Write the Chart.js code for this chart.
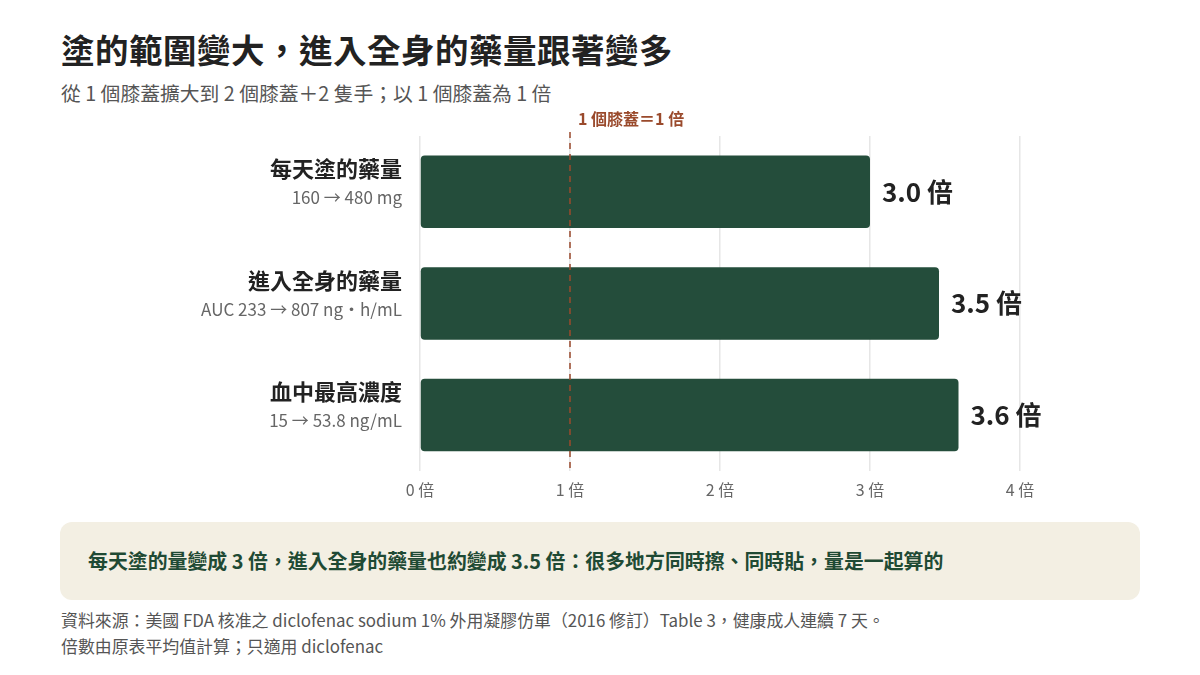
<!DOCTYPE html>
<html lang="zh-Hant">
<head>
<meta charset="utf-8">
<script src="https://cdn.jsdelivr.net/npm/chart.js@4"></script>
<style>
  html, body { margin: 0; padding: 0; background: #fff; }
  body { width: 1200px; height: 675px; position: relative; overflow: hidden;
         font-family: "Noto Sans CJK TC", "Noto Sans", sans-serif; color: #222; }
  .title { position: absolute; left: 61px; top: 24px; font-size: 33.5px; font-weight: 700; color: #222; letter-spacing: 0.5px; }
  .sub { position: absolute; left: 61px; top: 78px; font-size: 19.8px; color: #555; }
  .chartbox { position: absolute; left: 0; top: 110px; width: 1200px; height: 400px; }
  .note { position: absolute; left: 60px; top: 522px; width: 1080px; height: 78px; background: #f3efe3;
          border-radius: 12px; box-sizing: border-box; padding-left: 28px; line-height: 78px;
          font-size: 19.9px; font-weight: 700; color: #1f4a34; }
  .foot { position: absolute; left: 61px; top: 607px; font-size: 16.9px; color: #555; line-height: 26px; }
</style>
</head>
<body>
<div class="title">塗的範圍變大，進入全身的藥量跟著變多</div>
<div class="sub">從 1 個膝蓋擴大到 2 個膝蓋＋2 隻手；以 1 個膝蓋為 1 倍</div>
<div class="chartbox"><canvas id="ratioChart"></canvas></div>
<div class="note">每天塗的量變成 3 倍，進入全身的藥量也約變成 3.5 倍：很多地方同時擦、同時貼，量是一起算的</div>
<div class="foot">資料來源：美國 FDA 核准之 diclofenac sodium 1% 外用凝膠仿單（2016 修訂）Table 3，健康成人連續 7 天。<br>倍數由原表平均值計算；只適用 diclofenac</div>

<script>
// categories, sub labels and ratios (from FDA label means)
const categories = ["每天塗的藥量", "進入全身的藥量", "血中最高濃度"];
const subLabels = ["160 → 480 mg", "AUC 233 → 807 ng・h/mL", "15 → 53.8 ng/mL"];
const ratios = [3.0, 3.46, 3.59];
const ratioLabels = ["3.0 倍", "3.5 倍", "3.6 倍"];
const xTicks = [0, 1, 2, 3, 4];
const refValue = 1;
const refLabel = "1 個膝蓋＝1 倍";

const FONT = '"Noto Sans CJK TC", "Noto Sans", sans-serif';

const labelPlugin = {
  id: "labelPlugin",
  afterDatasetsDraw(chart) {
    const { ctx, chartArea, scales } = chart;
    const x = scales.x, y = scales.y;
    ctx.save();

    // reference line
    const rx = x.getPixelForValue(refValue);
    ctx.strokeStyle = "#9a4a2c";
    ctx.lineWidth = 1.5;
    ctx.setLineDash([6, 5]);
    ctx.beginPath();
    ctx.moveTo(rx, chartArea.top - 4);
    ctx.lineTo(rx, chartArea.bottom);
    ctx.stroke();
    ctx.setLineDash([]);
    ctx.fillStyle = "#9a4a2c";
    ctx.font = "700 16px " + FONT;
    ctx.textAlign = "left";
    ctx.textBaseline = "middle";
    ctx.fillText(refLabel, rx + 8, chartArea.top - 17);

    // category labels
    categories.forEach((c, i) => {
      const cy = y.getPixelForValue(i);
      ctx.textAlign = "right";
      ctx.fillStyle = "#222";
      ctx.font = "700 22px " + FONT;
      ctx.fillText(c, chartArea.left - 18, cy - 23);
      ctx.fillStyle = "#666";
      ctx.font = "400 17px " + FONT;
      ctx.fillText(subLabels[i], chartArea.left - 18, cy + 6);
    });

    // value labels
    const meta = chart.getDatasetMeta(0);
    meta.data.forEach((bar, i) => {
      ctx.textAlign = "left";
      ctx.fillStyle = "#222";
      ctx.font = "700 26px " + FONT;
      ctx.fillText(ratioLabels[i], bar.x + 12, bar.y);
    });
    ctx.restore();
  }
};

new Chart(document.getElementById("ratioChart"), {
  type: "bar",
  data: {
    labels: categories,
    datasets: [{
      data: ratios,
      backgroundColor: "#244d3b",
      borderRadius: 4,
      borderSkipped: false,
      categoryPercentage: 0.65,
      barPercentage: 1.0
    }]
  },
  options: {
    indexAxis: "y",
    responsive: true,
    maintainAspectRatio: false,
    animation: false,
    layout: { padding: { left: 420, right: 180, top: 26, bottom: 0 } },
    plugins: { legend: { display: false }, tooltip: { enabled: false } },
    scales: {
      x: {
        min: 0, max: 4,
        afterBuildTicks: (axis) => { axis.ticks = xTicks.map(v => ({ value: v })); },
        grid: { color: "#e6e6e6", lineWidth: 1.5, drawTicks: false },
        border: { display: false },
        ticks: {
          padding: 10,
          color: "#666",
          font: { family: FONT, size: 16 },
          callback: (v) => v + " 倍"
        }
      },
      y: {
        display: false,
        grid: { display: false }
      }
    }
  },
  plugins: [labelPlugin]
});
</script>
</body>
</html>
